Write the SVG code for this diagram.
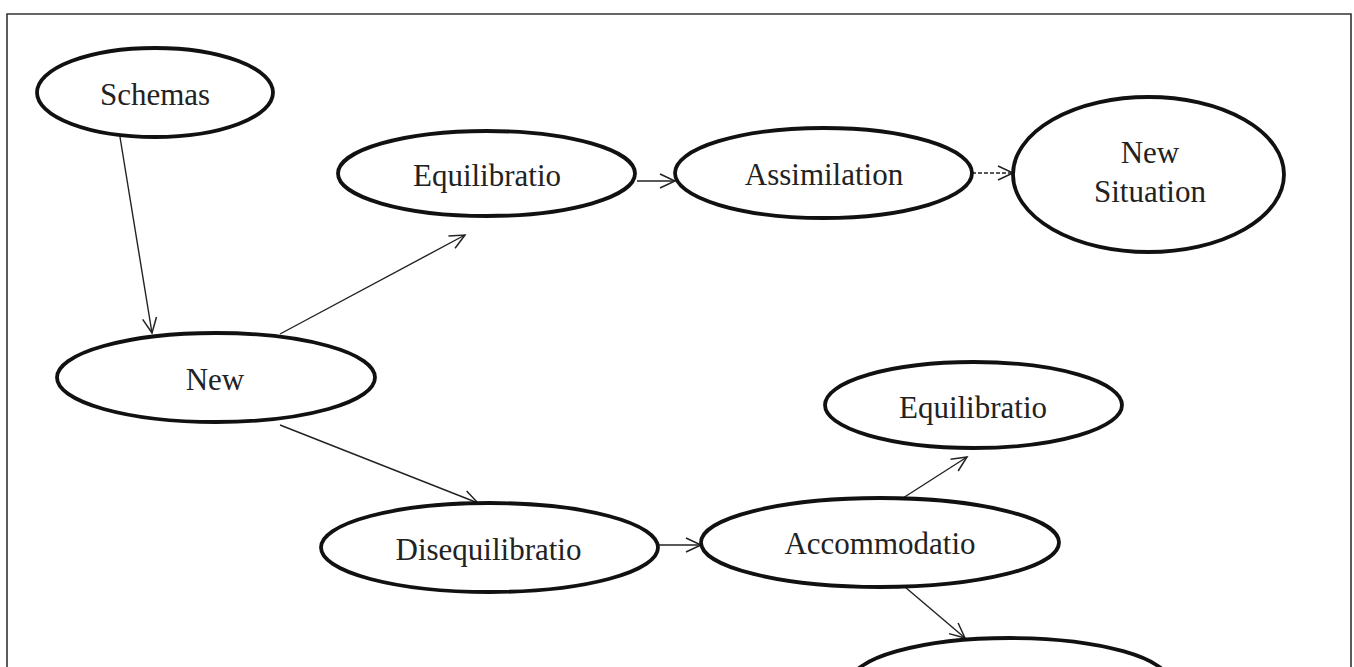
<svg xmlns="http://www.w3.org/2000/svg" width="1354" height="667" viewBox="0 0 1354 667">
  <style>
    .node ellipse { fill: #ffffff; stroke: #111111; stroke-width: 3.8; }
    .node text { font-family: "Liberation Serif", "Times New Roman", serif; font-size: 31px; fill: #222222; text-anchor: middle; }
    .conn { stroke: #222222; stroke-width: 1.4; fill: none; marker-end: url(#arrow); }
    .dashed { stroke-dasharray: 4 2; }
  </style>
  <defs>
    <marker id="arrow" markerUnits="userSpaceOnUse" markerWidth="18" markerHeight="18" viewBox="0 0 18 18" refX="16" refY="9" orient="auto">
      <path d="M1,2 L16,9 L1,16" fill="none" stroke="#222222" stroke-width="1.5"/>
    </marker>
  </defs>
  <rect x="0" y="0" width="1354" height="667" fill="#ffffff"/>
  <path d="M7,700 L7,14 L1351,14 L1351,700" fill="none" stroke="#333333" stroke-width="1.6"/>

  <g id="connectors">
    <line class="conn" x1="120" y1="137" x2="152" y2="333"/>
    <line class="conn" x1="280" y1="334" x2="465" y2="235"/>
    <line class="conn" x1="280" y1="425" x2="478" y2="503"/>
    <line class="conn" x1="637" y1="181" x2="675" y2="181"/>
    <line class="conn dashed" x1="972" y1="173" x2="1013" y2="173"/>
    <line class="conn" x1="658" y1="545" x2="701" y2="545"/>
    <line class="conn" x1="903" y1="498" x2="967" y2="457"/>
    <line class="conn" x1="905" y1="587" x2="965" y2="638"/>
  </g>

  <g id="node-schemas" class="node">
    <ellipse cx="155" cy="92.5" rx="118" ry="44.5"/>
    <text x="155" y="105">Schemas</text>
  </g>
  <g id="node-equilibratio-top" class="node">
    <ellipse cx="486.5" cy="173.5" rx="148.5" ry="42.5"/>
    <text x="487" y="186">Equilibratio</text>
  </g>
  <g id="node-assimilation" class="node">
    <ellipse cx="823.5" cy="173" rx="148.5" ry="45"/>
    <text x="824" y="185">Assimilation</text>
  </g>
  <g id="node-new-situation" class="node">
    <ellipse cx="1148.5" cy="174.5" rx="135.5" ry="77.5"/>
    <text x="1150" y="163">New</text>
    <text x="1150" y="202">Situation</text>
  </g>
  <g id="node-new" class="node">
    <ellipse cx="216" cy="377.5" rx="159" ry="44.5"/>
    <text x="215" y="390">New</text>
  </g>
  <g id="node-equilibratio-right" class="node">
    <ellipse cx="973.5" cy="405" rx="148.5" ry="43"/>
    <text x="973" y="418">Equilibratio</text>
  </g>
  <g id="node-disequilibratio" class="node">
    <ellipse cx="489.5" cy="547.5" rx="168.5" ry="44.5"/>
    <text x="488.5" y="560">Disequilibratio</text>
  </g>
  <g id="node-accommodatio" class="node">
    <ellipse cx="880" cy="542.5" rx="179" ry="44.5"/>
    <text x="880" y="554">Accommodatio</text>
  </g>
  <g id="node-bottom" class="node">
    <ellipse cx="1010" cy="683" rx="160" ry="45"/>
  </g>
</svg>
